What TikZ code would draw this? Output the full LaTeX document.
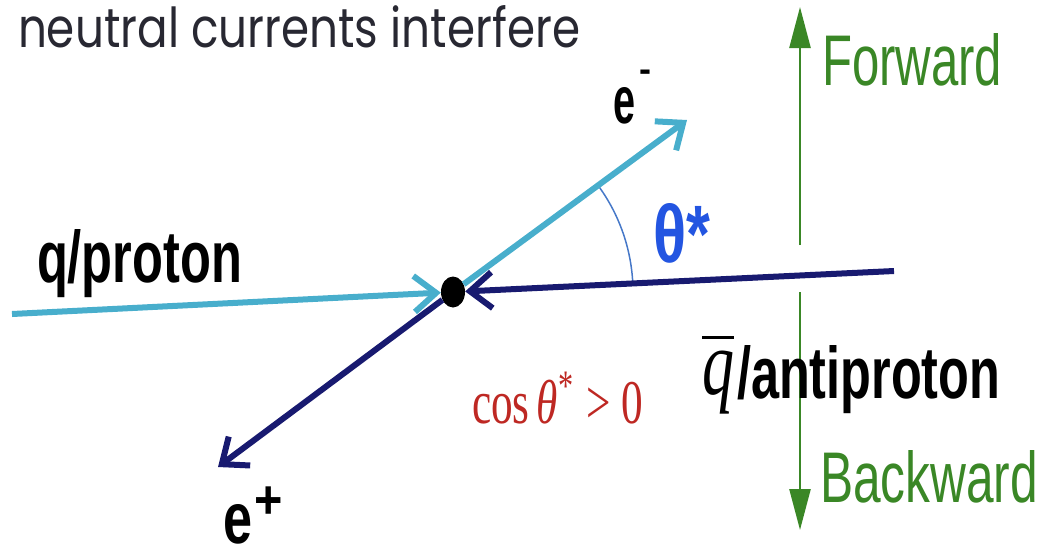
\documentclass[tikz,border=0pt]{standalone}
\usepackage{fontspec}
\setmainfont{Liberation Sans}
\newfontfamily\titlefont{Poppins}
\newfontfamily\timesfont{Liberation Serif}
\usepackage{graphicx}
\usetikzlibrary{arrows.meta,shapes.geometric}
\definecolor{lblue}{RGB}{72,174,204}
\definecolor{navy}{RGB}{24,26,112}
\definecolor{fgreen}{RGB}{58,135,38}
\definecolor{thetablue}{RGB}{35,85,225}
\definecolor{arcblue}{RGB}{70,120,200}
\definecolor{cosred}{RGB}{190,40,35}
\definecolor{titlegray}{RGB}{40,40,50}
\tikzset{
  lbl/.style={inner sep=0pt, outer sep=0pt, anchor=base west},
  beam/.style={line width=6pt, -{Straight Barb[length=22pt,width=36pt]}},
  vertexdot/.style={ellipse, fill=black, inner sep=0pt, minimum width=24pt, minimum height=31pt},
  garrow/.style={fgreen, line width=2.5pt, -{Triangle[length=41pt,width=21pt]}},
  anglearc/.style={arcblue, line width=1.5pt}
}
\begin{document}
\begin{tikzpicture}[x=1pt,y=-1pt]
\useasboundingbox (0,0) rectangle (1043,558);
% title
\node[lbl,text=titlegray] (title) at (18,47) {\resizebox{562pt}{42pt}{\titlefont neutral currents interfere}};
% vertex
\node[vertexdot] (v) at (453,292) {};
\coordinate (qs) at (12,314);
\coordinate (qbs) at (894,271);
\coordinate (em) at (687,120);
\coordinate (ep) at (218,467);
% angle arc
\draw[anglearc] (v.center) ++(-2.5:180) arc[start angle=-2.5, end angle=-36.5, radius=180];
% beams
\draw[beam,lblue] (qs) -- (v);
\draw[beam,navy] (qbs) -- (v);
\draw[beam,lblue] (v) -- (em);
\draw[beam,navy] (v) -- (ep);
% forward / backward axis
\coordinate (fa) at (800,245);
\coordinate (ft) at (800,7);
\coordinate (ba) at (800,292);
\coordinate (bt) at (800,530);
\draw[garrow] (fa) -- (ft);
\draw[garrow] (ba) -- (bt);
% labels
\node[lbl] (qlab) at (37,282) {\resizebox{205pt}{53pt}{\bfseries q/proton}};
\node[lbl] (qbar) at (702,394) {\resizebox{32pt}{62pt}{$\overline{\mbox{\timesfont\itshape q}}$}};
\node[lbl] (aplab) at (737,398) {\resizebox{263pt}{53pt}{\bfseries /antiproton}};
\node[lbl] (elab) at (613,123) {\resizebox{22pt}{36pt}{\bfseries e}\kern4pt\raisebox{41.8pt}{\fontsize{36pt}{36pt}\selectfont\bfseries -}};
\node[lbl] (eplab) at (223,543) {\resizebox{29pt}{39pt}{\bfseries e}\kern2pt\raisebox{24.3pt}{\scalebox{0.9}[1]{\fontsize{54pt}{54pt}\selectfont\bfseries +}}};
\node[lbl,text=thetablue] (theta) at (653,262) {\resizebox{57pt}{59pt}{\bfseries θ*}};
\node[lbl,text=cosred] (cos) at (472,423) {\resizebox{171pt}{51pt}{\timesfont cos\,\textit{θ}\textsuperscript{*} {>} 0}};
\node[lbl,text=fgreen] (fw) at (822,85) {\resizebox{180pt}{52pt}{Forward}};
\node[lbl,text=fgreen] (bw) at (820,502) {\resizebox{218pt}{52pt}{Backward}};
\end{tikzpicture}
\end{document}
